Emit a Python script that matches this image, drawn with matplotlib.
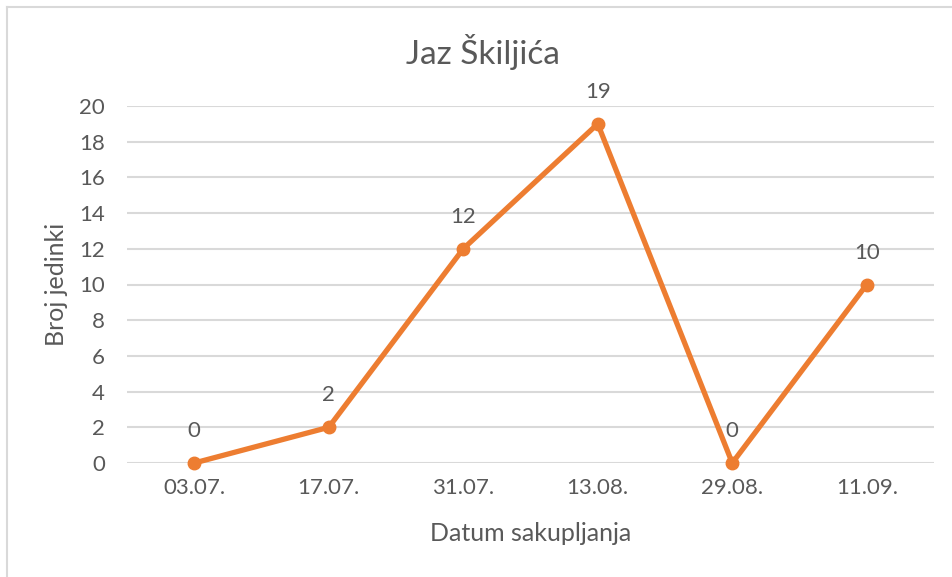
import matplotlib
matplotlib.use("Agg")
import matplotlib.pyplot as plt
from matplotlib.lines import Line2D

categories = ["03.07.", "17.07.", "31.07.", "13.08.", "29.08.", "11.09."]
values = [0, 2, 12, 19, 0, 10]
yticks = [0, 2, 4, 6, 8, 10, 12, 14, 16, 18, 20]

plt.rcParams['font.family'] = ['Lato', 'DejaVu Sans']
gray = "#595959"
orange = "#ED7D31"

fig = plt.figure(figsize=(9.53, 5.77), dpi=100)
ax = fig.add_axes([127/953, 1-463/577, (934-127)/953, (463-106)/577])

x = list(range(len(categories)))
ax.plot(x, values, color=orange, lw=3.8, marker='o', ms=9, solid_capstyle='round', zorder=3, clip_on=False)
for xi, v in zip(x, values):
    ax.annotate(str(v), (xi, v), xytext=(0, 23), textcoords='offset points',
                ha='center', va='center', fontsize=16, color=gray)

ax.set_xlim(-0.5, len(categories)-0.5)
ax.set_ylim(0, 20)
ax.set_yticks(yticks)
ax.set_xticks(x)
ax.set_xticklabels(categories)
ax.tick_params(axis='both', length=0, labelsize=16, colors=gray)
ax.tick_params(axis='y', pad=16)
ax.tick_params(axis='x', pad=11)
ax.grid(axis='y', color='#D9D9D9', lw=1.5)
ax.set_axisbelow(True)
for s in ax.spines.values():
    s.set_visible(False)

ax.set_xlabel("Datum sakupljanja", fontsize=18, color=gray, labelpad=17)
ax.set_ylabel("Broj jedinki", fontsize=18, color=gray, labelpad=8)
fig.text(483/953, 1-52/577, "Jaz Škiljića", ha='center', va='center', fontsize=24, color=gray)

# chart border (left and top visible)
fig.add_artist(Line2D([7/953, 7/953], [0, 1-7/577], transform=fig.transFigure, color='#D9D9D9', lw=1.5))
fig.add_artist(Line2D([7/953, 1], [1-7/577, 1-7/577], transform=fig.transFigure, color='#D9D9D9', lw=1.5))

fig.savefig("out.png", dpi=100)
